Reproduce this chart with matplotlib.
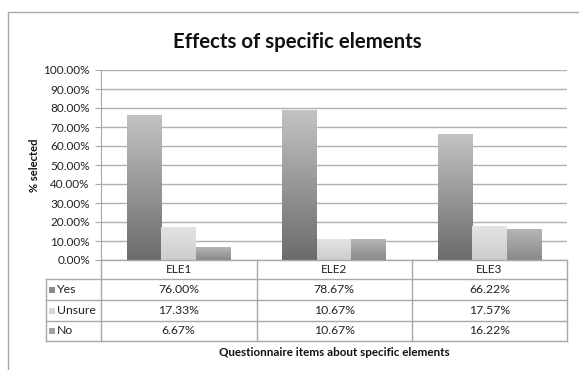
import numpy as np
import matplotlib
matplotlib.use("Agg")
import matplotlib.pyplot as plt
from matplotlib.colors import LinearSegmentedColormap
from matplotlib.patches import Rectangle
from matplotlib.lines import Line2D

plt.rcParams['font.family'] = ['Lato', 'DejaVu Sans']

# Data
categories = ["ELE1", "ELE2", "ELE3"]
series_names = ["Yes", "Unsure", "No"]
yes_vals = [76.00, 78.67, 66.22]
unsure_vals = [17.33, 10.67, 17.57]
no_vals = [6.67, 10.67, 16.22]
y_ticks = [0, 10, 20, 30, 40, 50, 60, 70, 80, 90, 100]

series_vals = [yes_vals, unsure_vals, no_vals]
# (top colour, bottom colour) of each series' vertical gradient
gradients = [("#c3c3c3", "#6b6b6b"), ("#e3e3e3", "#cdcdcd"), ("#b6b6b6", "#898989")]
legend_colors = ["#8a8a8a", "#d6d6d6", "#a0a0a0"]

W, H = 579, 370
fig = plt.figure(figsize=(W / 100, H / 100), dpi=100)

def fx(px):
    return px / W

def fy(py):
    return 1 - py / H

# Outer chart frame
fig.add_artist(Rectangle((fx(8), fy(380)), fx(600), fy(12) - fy(380),
                         transform=fig.transFigure, fill=False,
                         edgecolor="#a6a6a6", lw=1.0))

# Plot area
x0, x1, ytop, ybot = 101, 567, 70, 260
ax = fig.add_axes([fx(x0), fy(ybot), fx(x1) - fx(x0), fy(ytop) - fy(ybot)])
ax.set_xlim(0, len(categories))
ax.set_ylim(0, 100)
ax.set_yticks(y_ticks)
ax.set_yticklabels([f"{v:.2f}%" for v in y_ticks], fontsize=8.5, color="#222222")
ax.set_xticks([])
ax.grid(axis="y", color="#b0b0b0", lw=1.0)
ax.set_axisbelow(True)
for s in ["top", "right", "bottom"]:
    ax.spines[s].set_visible(False)
ax.spines["left"].set_color("#a8a8a8")
ax.tick_params(axis="y", length=4, color="#a8a8a8", pad=4)

bar_w = 0.222
for si, vals in enumerate(series_vals):
    top_c, bot_c = gradients[si]
    cmap = LinearSegmentedColormap.from_list(f"g{si}", [bot_c, top_c])
    for ci, v in enumerate(vals):
        left = ci + 0.5 - 1.5 * bar_w + si * bar_w
        grad = np.linspace(0, 1, 256).reshape(-1, 1)
        ax.imshow(grad, cmap=cmap, aspect="auto", origin="lower",
                  extent=[left, left + bar_w, 0, v], zorder=2,
                  interpolation="bilinear")
ax.set_xlim(0, len(categories))
ax.set_ylim(0, 100)

# Data table under the plot
tx0 = 46
rows_y = [260, 279, 300, 321, 341]
col_x = [101, 256.5, 412, 567]
lc = "#a8a8a8"

def hline(y, xa, xb):
    fig.add_artist(Line2D([fx(xa), fx(xb)], [fy(y), fy(y)], color=lc, lw=1.0,
                          transform=fig.transFigure))

def vline(x, ya, yb):
    fig.add_artist(Line2D([fx(x), fx(x)], [fy(ya), fy(yb)], color=lc, lw=1.0,
                          transform=fig.transFigure))

hline(rows_y[0], col_x[0], col_x[-1])
for y in rows_y[1:]:
    hline(y, tx0, col_x[-1])
vline(tx0, rows_y[1], rows_y[-1])
for x in col_x:
    vline(x, rows_y[0], rows_y[-1])

for ci, cat in enumerate(categories):
    cx = (col_x[ci] + col_x[ci + 1]) / 2
    fig.text(fx(cx), fy((rows_y[0] + rows_y[1]) / 2), cat, ha="center",
             va="center", fontsize=8.5, color="#222222")
    for si, vals in enumerate(series_vals):
        cy = (rows_y[si + 1] + rows_y[si + 2]) / 2
        fig.text(fx(cx), fy(cy), f"{vals[ci]:.2f}%", ha="center", va="center",
                 fontsize=8.8, color="#222222")

for si, name in enumerate(series_names):
    cy = (rows_y[si + 1] + rows_y[si + 2]) / 2
    fig.add_artist(Rectangle((fx(49), fy(cy + 3)), fx(6), fy(cy - 3) - fy(cy + 3),
                             transform=fig.transFigure, facecolor=legend_colors[si],
                             edgecolor="none"))
    fig.text(fx(57), fy(cy), name, ha="left", va="center", fontsize=8.8,
             color="#222222")

# Titles
fig.text(fx(297), fy(42), "Effects of specific elements", ha="center",
         va="center", fontsize=14.7, fontweight="bold", color="#111111")
fig.text(fx(35), fy(165), "% selected", ha="center", va="center",
         rotation=90, fontsize=8, fontweight="bold", color="#111111")
fig.text(fx(334), fy(353), "Questionnaire items about specific elements",
         ha="center", va="center", fontsize=8.4, fontweight="bold", color="#111111")

fig.savefig("out.png", dpi=100)
